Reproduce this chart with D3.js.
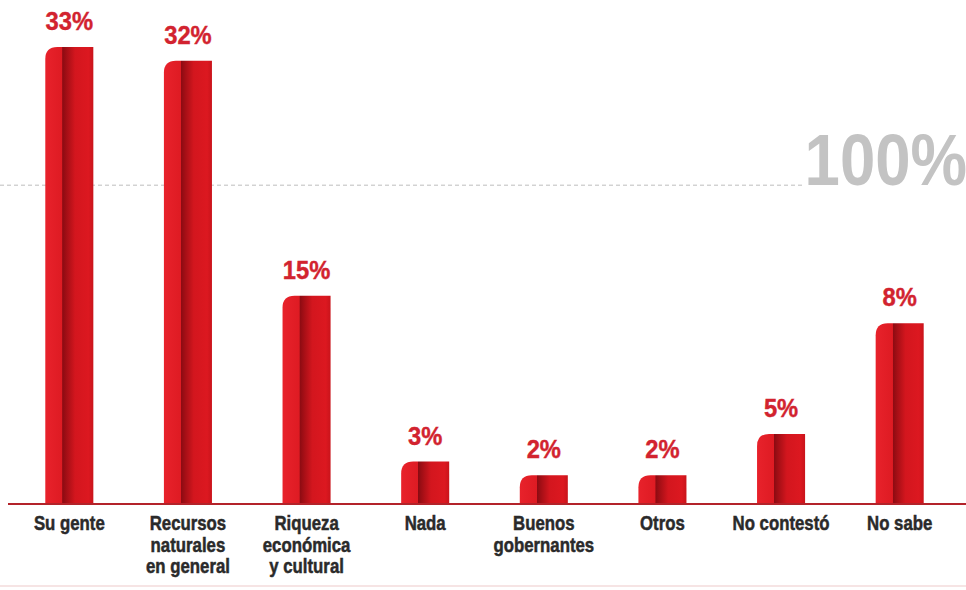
<!DOCTYPE html>
<html>
<head>
<meta charset="utf-8">
<script src="https://cdn.jsdelivr.net/npm/d3@7"></script>
<style>
  body { margin: 0; background: #fff; }
  text { font-family: "Liberation Sans", Arial, sans-serif; font-weight: bold; }
</style>
</head>
<body>
<script>
// categories and shares (%) as printed
var categories = [
    ['Su gente'],
    ['Recursos', 'naturales', 'en general'],
    ['Riqueza', 'económica', 'y cultural'],
    ['Nada'],
    ['Buenos', 'gobernantes'],
    ['Otros'],
    ['No contestó'],
    ['No sabe']
]
var shares = [33, 32, 15, 3, 2, 2, 5, 8]
// bar heights as drawn in the source graphic (the 8% bar is drawn taller)
var barHeights = [33, 32, 15, 3, 2, 2, 5, 13]
var refLineValue = 23,
    refLineLabel = '100%'

var width = 966,
    height = 590,
    baseY = 503

var svg = d3.select('body').append('svg')
    .attr('width', width)
    .attr('height', height)

var xScale = d3.scaleBand()
    .domain(d3.range(categories.length))
    .range([10, 959])
    .paddingInner(0.595)
    .paddingOuter(0.2975)

var yScale = d3.scaleLinear()
    .domain([0, 33])
    .range([baseY, 47])

var cx = i => xScale(i) + xScale.bandwidth() / 2

// bar gradient: bright left face, dark crease, red right face
var grad = svg.append('defs').append('linearGradient')
    .attr('id', 'barGrad')
    .attr('x1', '0%').attr('x2', '100%')
    .attr('y1', '0%').attr('y2', '0%')
var stops = [
    [0, '#e8222b'], [0.35, '#de1b23'], [0.36, '#8c0b12'],
    [0.45, '#a60f16'], [0.62, '#d3161e'], [0.9, '#dc1820'], [1, '#c9141b']
]
stops.forEach(s => grad.append('stop').attr('offset', s[0]).attr('stop-color', s[1]))

// dashed reference line + big grey label (condensed by squeezing x)
svg.append('line')
    .attr('x1', 0).attr('x2', 805)
    .attr('y1', yScale(refLineValue)).attr('y2', yScale(refLineValue))
    .attr('stroke', '#bdbdbd')
    .attr('stroke-width', 1)
    .attr('stroke-dasharray', '4,3')

svg.append('text')
    .attr('transform', 'translate(967,' + yScale(refLineValue) + ') scale(0.87,1)')
    .attr('text-anchor', 'end')
    .attr('font-size', 73)
    .attr('fill', '#c3c3c3')
    .text(refLineLabel)

// bars with rounded top-left corner
var r = 12
function barPath(d, i) {
    var x0 = xScale(i),
        x1 = x0 + xScale.bandwidth(),
        yTop = yScale(d),
        rr = Math.min(r, (baseY - yTop))
    return 'M' + x0 + ',' + baseY +
        'L' + x0 + ',' + (yTop + rr) +
        'Q' + x0 + ',' + yTop + ' ' + (x0 + rr) + ',' + yTop +
        'L' + x1 + ',' + yTop +
        'L' + x1 + ',' + baseY + 'Z'
}

svg.selectAll('.bar').data(barHeights).enter()
    .append('path')
    .attr('class', 'bar')
    .attr('d', barPath)
    .attr('fill', 'url(#barGrad)')

// value labels
svg.selectAll('.val').data(barHeights).enter()
    .append('text')
    .attr('class', 'val')
    .attr('transform', (d, i) => 'translate(' + cx(i) + ',' + (yScale(d) - 17) + ') scale(0.95,1)')
    .attr('text-anchor', 'middle')
    .attr('font-size', 25)
    .attr('fill', '#d2232f')
    .attr('stroke', '#d2232f')
    .attr('stroke-width', 0.4)
    .text((d, i) => shares[i] + '%')

// baseline
svg.append('line')
    .attr('x1', 8).attr('x2', width)
    .attr('y1', baseY + 1).attr('y2', baseY + 1)
    .attr('stroke', '#b3232a')
    .attr('stroke-width', 2)

// category labels
var cat = svg.selectAll('.cat').data(categories).enter()
    .append('text')
    .attr('class', 'cat')
    .attr('text-anchor', 'middle')
    .attr('font-size', 20)
    .attr('fill', '#2a2a2a')
    .attr('stroke', '#2a2a2a')
    .attr('stroke-width', 0.5)
    .attr('transform', (d, i) => 'translate(' + cx(i) + ',530) scale(0.84,1)')

cat.selectAll('tspan').data(d => d).enter()
    .append('tspan')
    .attr('x', 0)
    .attr('y', (d, j) => j * 21.7)
    .text(d => d)

// faint bottom edge
svg.append('line')
    .attr('x1', 0).attr('x2', width)
    .attr('y1', 586).attr('y2', 586)
    .attr('stroke', '#f6e4e4')
    .attr('stroke-width', 2)
</script>
</body>
</html>
